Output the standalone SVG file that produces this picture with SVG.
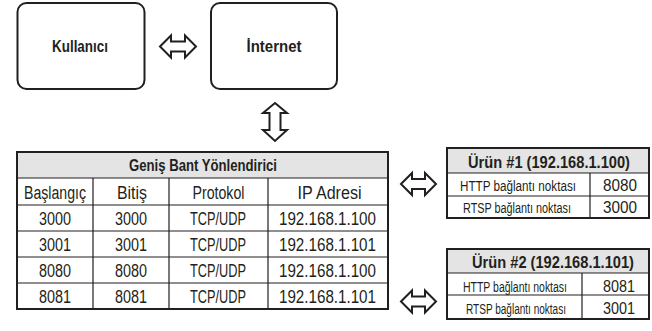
<svg xmlns="http://www.w3.org/2000/svg" width="652" height="331" viewBox="0 0 652 331">
<style>
.box{fill:#fff;stroke:#231f20;stroke-width:2}
.outer{fill:none;stroke:#231f20;stroke-width:2}
.hdr{fill:#e4e4e4;stroke:none}
.ln{stroke:#231f20;stroke-width:1.2;fill:none}
.arr{fill:#fff;stroke:#231f20;stroke-width:2;stroke-linejoin:miter}
text{font-family:"Liberation Sans",Arial,sans-serif;fill:#231f20;text-anchor:middle}
.b{font-weight:bold}
.t18{font-size:18px}
.t17{font-size:17px}
.t14{font-size:14px}
.t16{font-size:16px}
</style>
<rect width="652" height="331" fill="#fff"/>
<g id="kullanici">
<rect class="box" x="17.5" y="3" width="127" height="86" rx="9"/>
<text class="b t17" x="80" y="52" textLength="56" lengthAdjust="spacingAndGlyphs">Kullanıcı</text>
</g>
<g id="internet">
<rect class="box" x="211" y="3" width="126" height="86" rx="9"/>
<text class="b t17" x="274" y="52" textLength="55" lengthAdjust="spacingAndGlyphs">İnternet</text>
</g>
<g id="router">
<rect class="hdr" x="17" y="152" width="371" height="26"/>
<path class="ln" d="M17 178H388M17 205H388M17 231H388M17 257H388M17 283H388M93 178V309M169 178V309M268 178V309"/>
<rect class="outer" x="17" y="152" width="371" height="157"/>
<text class="b t17" x="203" y="171" textLength="148" lengthAdjust="spacingAndGlyphs">Geniş Bant Yönlendirici</text>
<text class="t18" x="55" y="199" textLength="62" lengthAdjust="spacingAndGlyphs">Başlangıç</text>
<text class="t18" x="132" y="199" textLength="30" lengthAdjust="spacingAndGlyphs">Bitiş</text>
<text class="t18" x="218.5" y="199" textLength="52" lengthAdjust="spacingAndGlyphs">Protokol</text>
<text class="t18" x="329.5" y="199" textLength="64" lengthAdjust="spacingAndGlyphs">IP Adresi</text>
<text class="t18" x="55" y="225" textLength="32" lengthAdjust="spacingAndGlyphs">3000</text>
<text class="t18" x="131" y="225" textLength="32" lengthAdjust="spacingAndGlyphs">3000</text>
<text class="t18" x="218" y="225" textLength="56" lengthAdjust="spacingAndGlyphs">TCP/UDP</text>
<text class="t18" x="327.5" y="225" textLength="97" lengthAdjust="spacingAndGlyphs">192.168.1.100</text>
<text class="t18" x="55" y="251" textLength="32" lengthAdjust="spacingAndGlyphs">3001</text>
<text class="t18" x="131" y="251" textLength="32" lengthAdjust="spacingAndGlyphs">3001</text>
<text class="t18" x="218" y="251" textLength="56" lengthAdjust="spacingAndGlyphs">TCP/UDP</text>
<text class="t18" x="327.5" y="251" textLength="97" lengthAdjust="spacingAndGlyphs">192.168.1.101</text>
<text class="t18" x="55" y="277" textLength="32" lengthAdjust="spacingAndGlyphs">8080</text>
<text class="t18" x="131" y="277" textLength="32" lengthAdjust="spacingAndGlyphs">8080</text>
<text class="t18" x="218" y="277" textLength="56" lengthAdjust="spacingAndGlyphs">TCP/UDP</text>
<text class="t18" x="327.5" y="277" textLength="97" lengthAdjust="spacingAndGlyphs">192.168.1.100</text>
<text class="t18" x="55" y="303" textLength="32" lengthAdjust="spacingAndGlyphs">8081</text>
<text class="t18" x="131" y="303" textLength="32" lengthAdjust="spacingAndGlyphs">8081</text>
<text class="t18" x="218" y="303" textLength="56" lengthAdjust="spacingAndGlyphs">TCP/UDP</text>
<text class="t18" x="327.5" y="303" textLength="97" lengthAdjust="spacingAndGlyphs">192.168.1.101</text>
</g>
<g id="urun1">
<rect class="hdr" x="447" y="148" width="202" height="25"/>
<path class="ln" d="M447 173H649M447 196H649M590 173V218"/>
<rect class="outer" x="447" y="148" width="202" height="70"/>
<text class="b t16" x="549" y="168" textLength="162" lengthAdjust="spacingAndGlyphs">Ürün #1 (192.168.1.100)</text>
<text class="t14" x="518" y="191" textLength="116" lengthAdjust="spacingAndGlyphs">HTTP bağlantı noktası</text>
<text class="t16" x="620" y="191" textLength="34" lengthAdjust="spacingAndGlyphs">8080</text>
<text class="t14" x="517" y="213" textLength="108" lengthAdjust="spacingAndGlyphs">RTSP bağlantı noktası</text>
<text class="t16" x="620" y="213" textLength="34" lengthAdjust="spacingAndGlyphs">3000</text>
</g>
<g id="urun2">
<rect class="hdr" x="447" y="249" width="202" height="24"/>
<path class="ln" d="M447 273H649M447 295H649M582 273V319"/>
<rect class="outer" x="447" y="249" width="202" height="70"/>
<text class="b t16" x="553" y="268" textLength="162" lengthAdjust="spacingAndGlyphs">Ürün #2 (192.168.1.101)</text>
<text class="t14" x="515" y="291.5" textLength="104" lengthAdjust="spacingAndGlyphs">HTTP bağlantı noktası</text>
<text class="t16" x="619" y="291.5" textLength="32" lengthAdjust="spacingAndGlyphs">8081</text>
<text class="t14" x="516" y="314" textLength="100" lengthAdjust="spacingAndGlyphs">RTSP bağlantı noktası</text>
<text class="t16" x="619" y="314" textLength="32" lengthAdjust="spacingAndGlyphs">3001</text>
</g>
<g id="connectors">
<polygon class="arr" points="160,46.5 171,35.5 171,41.5 185,41.5 185,35.5 196,46.5 185,57.5 185,51.5 171,51.5 171,57.5"/>
<polygon class="arr" points="275,103 287,113 280.5,113 280.5,130 287,130 275,141 263,130 269.5,130 269.5,113 263,113"/>
<polygon class="arr" points="401,184 412,173 412,179 425,179 425,173 436,184 425,195 425,189 412,189 412,195"/>
<polygon class="arr" points="401,301.5 412,290.5 412,296.5 425,296.5 425,290.5 436,301.5 425,312.5 425,306.5 412,306.5 412,312.5"/>
</g>
</svg>
